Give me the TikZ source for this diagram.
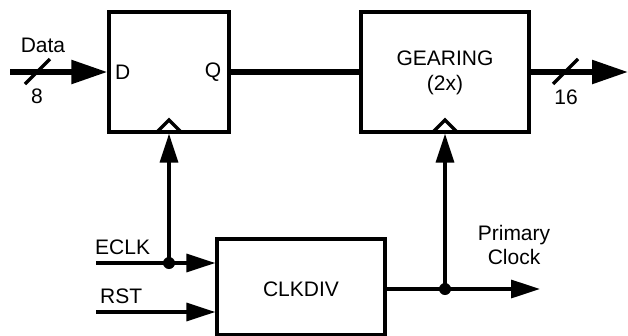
\documentclass[tikz,border=0pt]{standalone}
\usepackage{fontspec}
\setmainfont{Liberation Sans}
\usetikzlibrary{arrows.meta}
\begin{document}
\begin{tikzpicture}[x=1pt,y=-1pt,
  blk/.style={draw,line width=3.3pt,inner sep=0pt,align=center},
  lbl/.style={inner sep=0pt,font=\fontsize{21}{25}\selectfont},
  bus/.style={line width=5.5pt},
  sig/.style={line width=3.3pt},
  bigtip/.style={-{Triangle[length=36pt,width=23pt]}},
  smalltip/.style={-{Triangle[length=29pt,width=18pt]}},
  dot/.style={circle,fill,inner sep=0pt,minimum size=12pt}]
\useasboundingbox (0,0) rectangle (628,335);
% blocks
\node[blk,minimum width=120pt,minimum height=120pt] (ff) at (169,72) {};
\node[blk,minimum width=168pt,minimum height=120pt] (gear) at (445,72) {};
\node[blk,minimum width=168pt,minimum height=96pt] (clk) at (301,287) {};
% texts
\node[lbl,anchor=west] (dl) at (115,72) {D};
\node[lbl] (ql) at (213,72) {Q};
\node[lbl] (g1) at (445,58) {GEARING};
\node[lbl] (g2) at (445,85) {(2x)};
\node[lbl] (cl) at (301,289) {CLKDIV};
\node[lbl] (datal) at (43,45) {Data};
\node[lbl] (eightl) at (37,96) {8};
\node[lbl] (sixl) at (566,97) {16};
\node[lbl,anchor=west] (eclkl) at (95,247) {ECLK};
\node[lbl,anchor=west] (rstl) at (100,296) {RST};
\node[lbl,align=center] (pcl) at (514,245) {Primary\\[-1pt]Clock};
% clock carets
\draw[sig,line join=miter] (157,132) -- (169,120) -- (181,132);
\draw[sig,line join=miter] (433,132) -- (445,120) -- (457,132);
% coordinates
\coordinate (din) at (10,72);
\coordinate (dout) at (628,72);
\coordinate (eclk) at (96,263);
\coordinate (rst) at (96,312);
\coordinate (j1) at (169,263);
\coordinate (co) at (385,289);
\coordinate (j2) at (445,289);
\coordinate (pc) at (540,289);
% buses
\draw[bus,bigtip] (din) -- (ff.west);
\draw[bus] (ff.east) -- (gear.west);
\draw[bus,bigtip] (gear.east) -- (dout);
\draw[sig] (25,84) -- (50,59);
\draw[sig] (553,84) -- (578,59);
% clocks
\draw[sig,smalltip] (eclk) -- (clk.west |- eclk);
\draw[sig,smalltip] (rst) -- (clk.west |- rst);
\draw[sig,smalltip] (j1) -- (ff.south);
\draw[sig,smalltip] (co) -- (pc);
\draw[sig,smalltip] (j2) -- (gear.south);
\node[dot] (d1) at (j1) {};
\node[dot] (d2) at (j2) {};
\end{tikzpicture}
\end{document}
